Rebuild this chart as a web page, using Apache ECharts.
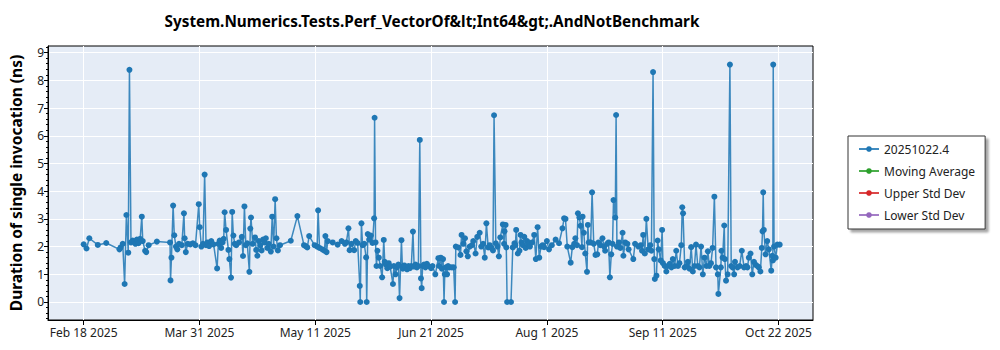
<!DOCTYPE html>
<html>
<head>
<meta charset="utf-8">
<script src="https://cdn.jsdelivr.net/npm/echarts@6/dist/echarts.min.js"></script>
<style>
html,body{margin:0;padding:0;background:#fff;}
#chart{width:1000px;height:350px;}
</style>
</head>
<body>
<div id="chart"></div>
<script>
const chartTitle = 'System.Numerics.Tests.Perf_VectorOf&lt;Int64&gt;.AndNotBenchmark';
const yAxisName = 'Duration of single invocation (ns)';
const seriesNames = ['20251022.4', 'Moving Average', 'Upper Std Dev', 'Lower Std Dev'];
const xTickDates = ['2025-02-18', '2025-03-31', '2025-05-11', '2025-06-21', '2025-08-01', '2025-09-11', '2025-10-22'];
const yTickValues = [0, 1, 2, 3, 4, 5, 6, 7, 8, 9];
const xRange = ['2025-02-05 09:00', '2025-11-03 05:00'];
const yRange = [-0.65, 9.24];

// [date, duration ns]
const mainPoints = [
  ['2025-02-18', 2.08], ['2025-02-19', 1.93], ['2025-02-20', 2.30], ['2025-02-23', 2.06], ['2025-02-26', 2.13],
  ['2025-03-02 16:00', 1.90], ['2025-03-03 02:00', 1.97], ['2025-03-03 20:00', 2.10], ['2025-03-04 12:00', 0.65], ['2025-03-05 03:00', 3.14],
  ['2025-03-05 19:00', 1.78], ['2025-03-06 05:00', 8.38], ['2025-03-06 18:00', 2.15], ['2025-03-07 08:00', 2.22], ['2025-03-07 20:00', 2.18],
  ['2025-03-08 08:00', 2.10], ['2025-03-08 20:00', 2.25], ['2025-03-09 10:00', 2.12], ['2025-03-10', 2.28], ['2025-03-10 14:00', 3.08],
  ['2025-03-10 22:00', 2.20], ['2025-03-11 18:00', 1.85], ['2025-03-12 04:00', 1.80], ['2025-03-13', 2.05], ['2025-03-15 22:00', 2.18],
  ['2025-03-20 14:00', 2.15], ['2025-03-20 18:00', 0.78], ['2025-03-21 02:00', 1.60], ['2025-03-21 16:00', 3.48], ['2025-03-22 02:00', 2.41],
  ['2025-03-22 16:00', 2.00], ['2025-03-23 04:00', 1.90], ['2025-03-23 18:00', 2.10], ['2025-03-24 18:00', 2.05], ['2025-03-25 12:00', 3.20],
  ['2025-03-25 18:00', 2.30], ['2025-03-26 04:00', 1.80], ['2025-03-26 20:00', 2.10], ['2025-03-27 18:00', 2.08], ['2025-03-28 16:00', 2.12],
  ['2025-03-29 14:00', 2.05], ['2025-03-30 18:00', 3.53], ['2025-03-31 02:00', 2.70],
  ['2025-03-31 16:00', 2.00], ['2025-04-01 06:00', 2.10], ['2025-04-01 20:00', 4.60], ['2025-04-02 08:00', 2.05], ['2025-04-02 20:00', 2.15],
  ['2025-04-03 10:00', 2.02], ['2025-04-04 04:00', 2.20], ['2025-04-05', 2.08], ['2025-04-06 06:00', 1.21], ['2025-04-06 16:00', 2.10],
  ['2025-04-07 04:00', 2.22], ['2025-04-07 16:00', 1.95], ['2025-04-08 04:00', 2.15], ['2025-04-08 14:00', 2.28], ['2025-04-08 22:00', 3.24],
  ['2025-04-09 10:00', 2.60], ['2025-04-10 06:00', 1.88], ['2025-04-10 14:00', 1.55], ['2025-04-11 04:00', 0.88], ['2025-04-11 14:00', 3.25],
  ['2025-04-12', 2.40], ['2025-04-12 12:00', 2.10], ['2025-04-13', 2.05], ['2025-04-14', 2.15], ['2025-04-15', 2.35],
  ['2025-04-15 10:00', 1.66], ['2025-04-15 22:00', 3.45], ['2025-04-16 10:00', 2.05], ['2025-04-16 22:00', 2.12], ['2025-04-17 16:00', 1.09],
  ['2025-04-18', 2.65], ['2025-04-18 06:00', 3.05], ['2025-04-18 20:00', 2.10], ['2025-04-19 16:00', 2.33], ['2025-04-20 02:00', 1.88],
  ['2025-04-20 12:00', 1.67], ['2025-04-21', 2.20], ['2025-04-21 12:00', 2.05], ['2025-04-22', 1.86], ['2025-04-22 12:00', 2.25],
  ['2025-04-23', 2.15], ['2025-04-23 12:00', 2.30], ['2025-04-24', 1.95], ['2025-04-24 12:00', 2.10], ['2025-04-25 06:00', 1.82],
  ['2025-04-25 18:00', 3.08], ['2025-04-26 06:00', 2.00], ['2025-04-26 19:00', 3.71], ['2025-04-27 06:00', 2.30], ['2025-04-27 18:00', 1.86],
  ['2025-04-28 12:00', 2.05],
  ['2025-05-02 08:00', 2.21], ['2025-05-04 16:00', 3.10], ['2025-05-07', 2.05], ['2025-05-07 14:00', 2.02], ['2025-05-08 04:00', 1.97],
  ['2025-05-08 20:00', 2.38], ['2025-05-10 18:00', 2.05], ['2025-05-11 16:00', 2.00], ['2025-05-12', 3.31], ['2025-05-12 12:00', 1.95],
  ['2025-05-13 12:00', 1.90], ['2025-05-14 06:00', 1.85], ['2025-05-14 14:00', 2.38], ['2025-05-15', 1.80], ['2025-05-15 10:00', 2.20],
  ['2025-05-17 04:00', 2.15], ['2025-05-18 22:00', 2.07], ['2025-05-20 08:00', 2.20], ['2025-05-21 12:00', 2.10], ['2025-05-22', 2.15],
  ['2025-05-22 18:00', 2.66], ['2025-05-23 04:00', 1.87], ['2025-05-23 20:00', 2.10], ['2025-05-24 18:00', 1.87], ['2025-05-25 08:00', 2.20],
  ['2025-05-26', 2.13], ['2025-05-26 18:00', 0.58], ['2025-05-26 22:00', 0.00], ['2025-05-27 08:00', 2.84], ['2025-05-27 18:00', 2.05],
  ['2025-05-28 08:00', 2.10], ['2025-05-29', 1.61], ['2025-05-29 05:00', 0.00], ['2025-05-29 14:00', 2.45], ['2025-05-30 02:00', 2.25],
  ['2025-05-30 16:00', 2.40], ['2025-05-31 06:00', 2.13], ['2025-05-31 20:00', 3.02],
  ['2025-06-01', 6.65], ['2025-06-01 08:00', 2.15], ['2025-06-01 16:00', 1.30], ['2025-06-02', 1.85], ['2025-06-02 12:00', 1.60],
  ['2025-06-03', 1.30], ['2025-06-03 16:00', 0.89], ['2025-06-04 06:00', 2.24], ['2025-06-04 14:00', 1.45], ['2025-06-05', 1.35],
  ['2025-06-05 12:00', 1.22], ['2025-06-06', 1.40], ['2025-06-06 12:00', 1.28], ['2025-06-07 12:00', 0.65], ['2025-06-07 20:00', 1.30],
  ['2025-06-08 10:00', 1.00], ['2025-06-08 22:00', 1.25], ['2025-06-09 10:00', 1.35], ['2025-06-09 20:00', 0.14], ['2025-06-10 12:00', 2.23],
  ['2025-06-10 20:00', 1.28], ['2025-06-11', 1.20], ['2025-06-11 12:00', 1.32], ['2025-06-12', 1.25], ['2025-06-12 12:00', 1.18],
  ['2025-06-13', 1.30], ['2025-06-13 12:00', 1.22], ['2025-06-14', 1.30], ['2025-06-14 14:00', 2.54], ['2025-06-15', 1.28],
  ['2025-06-15 12:00', 1.35], ['2025-06-16', 1.25], ['2025-06-16 12:00', 1.30], ['2025-06-17', 5.85], ['2025-06-17 10:00', 0.85],
  ['2025-06-17 16:00', 0.50], ['2025-06-18', 1.30], ['2025-06-18 12:00', 1.35], ['2025-06-19', 1.25], ['2025-06-19 12:00', 1.38],
  ['2025-06-20', 1.30], ['2025-06-21', 1.22], ['2025-06-21 12:00', 1.30], ['2025-06-22 12:00', 1.00], ['2025-06-23 14:00', 1.58],
  ['2025-06-23 20:00', 1.30], ['2025-06-24 10:00', 1.60], ['2025-06-24 20:00', 1.20], ['2025-06-25 06:00', 1.55], ['2025-06-25 14:00', 0.00],
  ['2025-06-25 20:00', 1.00], ['2025-06-26 06:00', 1.25], ['2025-06-26 16:00', 1.00], ['2025-06-27', 1.30], ['2025-06-27 12:00', 1.25],
  ['2025-06-28 08:00', 1.25], ['2025-06-29', 1.25], ['2025-06-29 12:00', 0.00], ['2025-06-29 18:00', 2.00], ['2025-06-30 14:00', 1.97],
  ['2025-07-01 10:00', 1.70], ['2025-07-01 19:00', 2.42], ['2025-07-02 10:00', 2.10], ['2025-07-03', 2.30], ['2025-07-03 12:00', 1.83],
  ['2025-07-04', 1.65], ['2025-07-04 16:00', 2.00], ['2025-07-05 12:00', 2.05], ['2025-07-05 22:00', 2.20], ['2025-07-06 18:00', 1.75],
  ['2025-07-07 08:00', 2.35], ['2025-07-08 05:00', 2.50], ['2025-07-08 18:00', 2.00], ['2025-07-09 10:00', 2.10], ['2025-07-10', 1.60],
  ['2025-07-10 14:00', 2.84], ['2025-07-11 05:00', 1.97], ['2025-07-11 18:00', 2.05], ['2025-07-12 08:00', 1.95], ['2025-07-12 22:00', 1.86],
  ['2025-07-13 07:00', 6.74], ['2025-07-13 22:00', 2.12], ['2025-07-14 12:00', 2.00], ['2025-07-15', 1.65], ['2025-07-15 12:00', 2.33],
  ['2025-07-16 10:00', 2.80], ['2025-07-16 20:00', 2.10], ['2025-07-17', 2.55], ['2025-07-17 09:00', 2.78], ['2025-07-17 15:00', 1.97],
  ['2025-07-17 22:00', 0.00], ['2025-07-19 07:00', 0.00], ['2025-07-19 22:00', 1.97], ['2025-07-20 12:00', 2.12], ['2025-07-20 20:00', 2.05],
  ['2025-07-21 03:00', 2.60], ['2025-07-21 17:00', 1.75], ['2025-07-22 07:00', 1.85], ['2025-07-22 16:00', 2.42], ['2025-07-23', 2.15],
  ['2025-07-23 12:00', 2.05], ['2025-07-24', 2.35], ['2025-07-24 12:00', 1.95], ['2025-07-25', 2.20], ['2025-07-25 12:00', 2.10],
  ['2025-07-26', 2.00], ['2025-07-26 18:00', 2.15], ['2025-07-27 12:00', 2.42], ['2025-07-28 02:00', 1.55], ['2025-07-28 17:00', 2.70],
  ['2025-07-29 07:00', 1.60], ['2025-07-29 22:00', 2.00], ['2025-07-30 12:00', 2.05], ['2025-07-31', 1.98],
  ['2025-08-01', 2.20], ['2025-08-01 18:00', 1.90], ['2025-08-02 18:00', 2.05], ['2025-08-04 02:00', 2.25], ['2025-08-05 07:00', 2.12],
  ['2025-08-06 12:00', 2.66], ['2025-08-07 02:00', 3.02], ['2025-08-07 14:00', 3.00], ['2025-08-08 05:00', 2.00], ['2025-08-09 10:00', 1.42],
  ['2025-08-10', 1.98], ['2025-08-10 16:00', 2.10], ['2025-08-11 02:00', 2.30], ['2025-08-11 16:00', 2.05], ['2025-08-12', 3.20],
  ['2025-08-12 12:00', 3.05], ['2025-08-12 22:00', 2.75], ['2025-08-13 10:00', 1.98], ['2025-08-13 15:00', 3.08], ['2025-08-14 02:00', 2.50],
  ['2025-08-14 14:00', 1.75], ['2025-08-15 05:00', 1.09], ['2025-08-15 12:00', 2.78], ['2025-08-15 20:00', 2.15], ['2025-08-16 12:00', 2.15],
  ['2025-08-17', 3.96], ['2025-08-17 14:00', 2.10], ['2025-08-18 05:00', 1.70], ['2025-08-18 20:00', 1.72], ['2025-08-19 07:00', 2.15],
  ['2025-08-19 22:00', 2.05], ['2025-08-20 16:00', 2.30], ['2025-08-21 06:00', 2.00], ['2025-08-21 15:00', 1.85], ['2025-08-22 08:00', 2.10],
  ['2025-08-22 20:00', 2.15], ['2025-08-23 07:00', 0.89], ['2025-08-23 19:00', 1.72], ['2025-08-24 06:00', 2.10], ['2025-08-24 14:00', 3.68],
  ['2025-08-25 05:00', 3.05], ['2025-08-25 12:00', 6.75], ['2025-08-25 19:00', 2.00], ['2025-08-26 12:00', 2.15], ['2025-08-27', 1.95],
  ['2025-08-27 19:00', 2.50], ['2025-08-28 02:00', 1.67], ['2025-08-28 17:00', 2.15], ['2025-08-29 12:00', 2.10], ['2025-08-29 22:00', 1.90],
  ['2025-08-31 14:00', 1.55],
  ['2025-09-01 05:00', 2.10], ['2025-09-02 10:00', 2.00], ['2025-09-03 06:00', 2.05], ['2025-09-03 16:00', 1.85], ['2025-09-04 02:00', 2.42],
  ['2025-09-04 16:00', 1.75], ['2025-09-05 05:00', 3.00], ['2025-09-05 21:00', 1.90], ['2025-09-06 14:00', 2.05], ['2025-09-07', 1.85],
  ['2025-09-07 14:00', 8.30], ['2025-09-08', 1.55], ['2025-09-08 05:00', 0.83], ['2025-09-08 19:00', 0.95], ['2025-09-09 05:00', 2.22],
  ['2025-09-09 14:00', 1.90], ['2025-09-10 07:00', 1.50], ['2025-09-10 19:00', 2.60], ['2025-09-11 02:00', 1.40], ['2025-09-11 17:00', 1.30],
  ['2025-09-12 07:00', 1.10], ['2025-09-12 20:00', 1.30], ['2025-09-13 12:00', 1.38], ['2025-09-14 02:00', 1.25], ['2025-09-14 14:00', 1.55],
  ['2025-09-15 06:00', 1.30], ['2025-09-15 19:00', 1.85], ['2025-09-16 10:00', 1.30], ['2025-09-16 22:00', 1.40], ['2025-09-17 14:00', 2.05],
  ['2025-09-17 22:00', 3.42], ['2025-09-18 05:00', 3.20], ['2025-09-18 19:00', 1.25], ['2025-09-19 10:00', 1.30], ['2025-09-19 22:00', 1.45],
  ['2025-09-20 12:00', 1.20], ['2025-09-21 02:00', 1.98], ['2025-09-21 16:00', 1.10], ['2025-09-22 06:00', 1.30], ['2025-09-22 19:00', 2.07],
  ['2025-09-23 10:00', 1.30], ['2025-09-24', 1.25], ['2025-09-24 14:00', 2.00], ['2025-09-25 05:00', 1.00], ['2025-09-25 19:00', 1.60],
  ['2025-09-26 12:00', 1.30], ['2025-09-27', 1.83], ['2025-09-27 12:00', 1.30], ['2025-09-28 02:00', 1.40], ['2025-09-28 16:00', 1.95],
  ['2025-09-29 07:00', 3.80], ['2025-09-29 21:00', 1.25], ['2025-09-30 12:00', 1.00], ['2025-09-30 17:00', 0.29],
  ['2025-10-01 14:00', 1.25], ['2025-10-01 19:00', 1.85], ['2025-10-02 05:00', 1.60], ['2025-10-02 19:00', 2.76], ['2025-10-03', 1.55],
  ['2025-10-03 10:00', 0.77], ['2025-10-04', 1.00], ['2025-10-04 19:00', 8.57], ['2025-10-05 06:00', 1.30], ['2025-10-05 17:00', 1.25],
  ['2025-10-06 07:00', 1.00], ['2025-10-06 14:00', 1.45], ['2025-10-07 12:00', 1.25], ['2025-10-08 06:00', 1.30], ['2025-10-09', 1.85],
  ['2025-10-09 19:00', 1.25], ['2025-10-10 12:00', 1.30], ['2025-10-11', 1.25], ['2025-10-11 12:00', 1.60], ['2025-10-12 02:00', 1.75],
  ['2025-10-12 17:00', 1.00], ['2025-10-13 07:00', 1.45], ['2025-10-13 20:00', 1.35], ['2025-10-14 12:00', 1.30], ['2025-10-15', 1.25],
  ['2025-10-15 14:00', 1.10], ['2025-10-16 02:00', 1.95], ['2025-10-16 08:00', 2.55], ['2025-10-16 14:00', 3.96], ['2025-10-16 19:00', 2.60],
  ['2025-10-17 10:00', 1.72], ['2025-10-18', 2.20], ['2025-10-18 14:00', 1.90], ['2025-10-19 10:00', 1.13], ['2025-10-19 19:00', 1.67],
  ['2025-10-20', 1.50], ['2025-10-20 03:00', 8.57], ['2025-10-20 10:00', 2.00], ['2025-10-21', 1.60], ['2025-10-21 14:00', 2.07],
  ['2025-10-22 10:00', 2.07]
];
const movingAverage = [];
const upperStdDev = [];
const lowerStdDev = [];
const seriesColors = ['#1f77b4', '#2ca02c', '#d62728', '#9467bd'];

function parseT(s) {
  const m = s.match(/^(\d{4})-(\d{2})-(\d{2})(?: (\d{2}):(\d{2}))?$/);
  return Date.UTC(+m[1], +m[2] - 1, +m[3], m[4] ? +m[4] : 0, m[5] ? +m[5] : 0);
}
const monthNames = ['Jan','Feb','Mar','Apr','May','Jun','Jul','Aug','Sep','Oct','Nov','Dec'];
const xTicks = xTickDates.map(parseT);
const minorY = [];
for (let k = -3; k <= 46; k++) {
  if (k % 5 !== 0) minorY.push(k / 5);
}
const FONT = 'Noto Sans';

const chart = echarts.init(document.getElementById('chart'), null, {renderer: 'svg'});
const mkSeries = (name, data, color) => ({
  name, type: 'line', xAxisIndex: 0, yAxisIndex: 0,
  data: data.map(p => [parseT(p[0]), p[1]]),
  symbol: 'circle', symbolSize: 6, showSymbol: true, showAllSymbol: true,
  itemStyle: {color}, lineStyle: {color, width: 1.5, opacity: 0.85},
  emphasis: {disabled: true}, z: 3
});
chart.setOption({
  animation: false,
  backgroundColor: '#ffffff',
  title: {
    text: chartTitle, left: 427, top: 8, textAlign: 'center',
    textStyle: {fontFamily: FONT, fontSize: 15.3, fontWeight: 'bold', color: '#000'}
  },
  legend: {
    data: seriesNames, orient: 'vertical', left: 848, top: 136,
    padding: [7, 10, 8, 10], itemGap: 10, itemWidth: 20, itemHeight: 7,
    backgroundColor: '#fff', borderColor: '#333', borderWidth: 1,
    shadowColor: 'rgba(0,0,0,0.35)', shadowBlur: 2, shadowOffsetX: 3, shadowOffsetY: 3,
    textStyle: {fontFamily: FONT, fontSize: 12, color: '#222'}
  },
  grid: {
    left: 41, right: 187, top: 46, bottom: 30, containLabel: false,
    show: true, backgroundColor: '#e5ecf6', borderColor: '#000', borderWidth: 1
  },
  xAxis: {
    type: 'value', min: parseT(xRange[0]), max: parseT(xRange[1]), scale: true,
    axisLine: {show: true, onZero: false, lineStyle: {color: '#000', width: 1}},
    axisTick: {show: true, customValues: xTicks, length: 5, lineStyle: {color: '#000'}},
    axisLabel: {
      customValues: xTicks, margin: 6, hideOverlap: false,
      fontFamily: FONT, fontSize: 12, color: '#222',
      formatter: v => { const d = new Date(v); return monthNames[d.getUTCMonth()] + ' ' + d.getUTCDate() + ' ' + d.getUTCFullYear(); }
    },
    splitLine: {show: true, lineStyle: {color: '#ffffff', width: 1}}
  },
  yAxis: [{
    type: 'value', min: yRange[0], max: yRange[1],
    name: yAxisName, nameLocation: 'middle', nameGap: 24,
    nameTextStyle: {fontFamily: FONT, fontSize: 15.5, fontWeight: 'bold', color: '#000'},
    axisLine: {show: true, onZero: false, lineStyle: {color: '#000', width: 1}},
    axisTick: {show: true, customValues: yTickValues, length: 4, lineStyle: {color: '#000'}},
    axisLabel: {customValues: yTickValues, margin: 4, fontFamily: FONT, fontSize: 12, color: '#222'},
    splitLine: {show: true, lineStyle: {color: '#ffffff', width: 1}}
  }, {
    type: 'value', min: yRange[0], max: yRange[1], position: 'left',
    axisLine: {show: false},
    axisTick: {show: true, customValues: minorY, length: 2, lineStyle: {color: '#000'}},
    axisLabel: {show: false}, splitLine: {show: false}
  }],
  series: [
    mkSeries(seriesNames[0], mainPoints, seriesColors[0]),
    mkSeries(seriesNames[1], movingAverage, seriesColors[1]),
    mkSeries(seriesNames[2], upperStdDev, seriesColors[2]),
    mkSeries(seriesNames[3], lowerStdDev, seriesColors[3])
  ]
});
</script>
</body>
</html>
